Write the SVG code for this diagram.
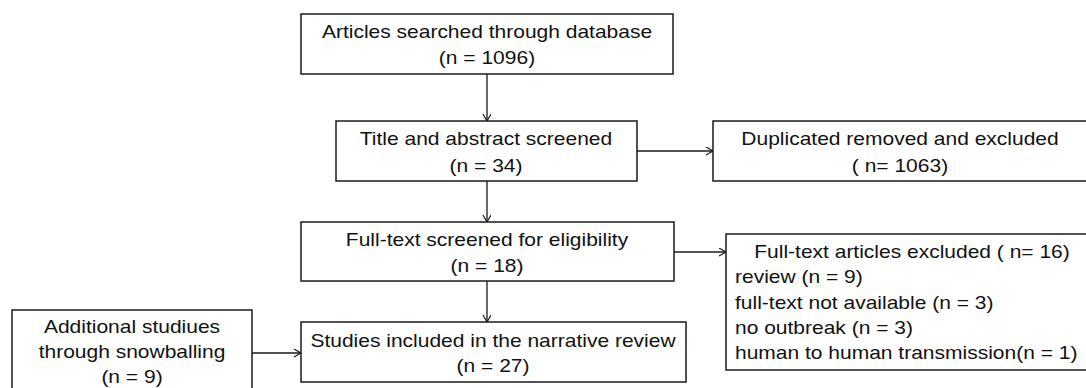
<svg xmlns="http://www.w3.org/2000/svg" width="1086" height="388" viewBox="0 0 1086 388">
<style>
.box{fill:#fff;stroke:#1a1a1a;stroke-width:1.5}
text{font-family:"Liberation Sans",Arial,sans-serif;font-size:19px;fill:#111}
.c{text-anchor:middle}
.conn{stroke:#1a1a1a;stroke-width:1.3;fill:none;marker-end:url(#ah)}
</style>
<defs>
<marker id="ah" markerWidth="10" markerHeight="10" refX="8" refY="4" orient="auto" markerUnits="userSpaceOnUse">
<path d="M1,0 L8,4 L1,8" fill="none" stroke="#1a1a1a" stroke-width="1.2"/>
</marker>
</defs>
<rect width="1086" height="388" fill="#fff"/>
<g id="connectors">
<line class="conn" x1="487" y1="74" x2="487" y2="121"/>
<line class="conn" x1="637" y1="151" x2="713" y2="151"/>
<line class="conn" x1="487" y1="181" x2="487" y2="222"/>
<line class="conn" x1="674" y1="252" x2="726" y2="252"/>
<line class="conn" x1="487" y1="281" x2="487" y2="322"/>
<line class="conn" x1="252" y1="353" x2="301" y2="353"/>
</g>
<g id="n1">
<rect class="box" x="301" y="14" width="372" height="60"/>
<text class="c" transform="translate(487 38) scale(1.105 1)">Articles searched through database</text>
<text class="c" transform="translate(487 64) scale(1.105 1)">(n = 1096)</text>
</g>
<g id="n2">
<rect class="box" x="336" y="121" width="301" height="60"/>
<text class="c" transform="translate(486 145) scale(1.105 1)">Title and abstract screened</text>
<text class="c" transform="translate(486 172) scale(1.105 1)">(n = 34)</text>
</g>
<g id="n3">
<rect class="box" x="713" y="121" width="380" height="60"/>
<text class="c" transform="translate(900 145) scale(1.105 1)">Duplicated removed and excluded</text>
<text class="c" transform="translate(900 172) scale(1.105 1)">( n= 1063)</text>
</g>
<g id="n4">
<rect class="box" x="301" y="222" width="373" height="59"/>
<text class="c" transform="translate(487 246) scale(1.105 1)">Full-text screened for eligibility</text>
<text class="c" transform="translate(487 272) scale(1.105 1)">(n = 18)</text>
</g>
<g id="n5">
<rect class="box" x="726" y="234" width="365" height="136"/>
<text class="c" transform="translate(912 258) scale(1.105 1)">Full-text articles excluded ( n= 16)</text>
<text transform="translate(735 283) scale(1.105 1)">review (n = 9)</text>
<text transform="translate(735 309) scale(1.105 1)">full-text not available (n = 3)</text>
<text transform="translate(735 334) scale(1.105 1)">no outbreak (n = 3)</text>
<text transform="translate(735 359) scale(1.105 1)">human to human transmission(n = 1)</text>
</g>
<g id="n6">
<rect class="box" x="301" y="322" width="385" height="60"/>
<text class="c" transform="translate(493 347) scale(1.105 1)">Studies included in the narrative review</text>
<text class="c" transform="translate(493 372) scale(1.105 1)">(n = 27)</text>
</g>
<g id="n7">
<rect class="box" x="12" y="310" width="240" height="90"/>
<text class="c" transform="translate(132 333) scale(1.105 1)">Additional studiues</text>
<text class="c" transform="translate(132 358) scale(1.105 1)">through snowballing</text>
<text class="c" transform="translate(132 383) scale(1.105 1)">(n = 9)</text>
</g>
</svg>
